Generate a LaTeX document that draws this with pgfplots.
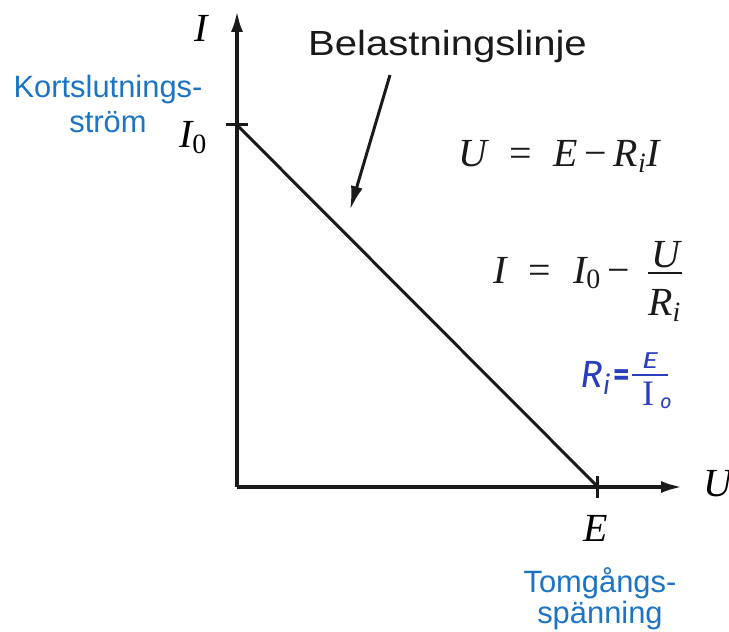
\RequirePackage{fix-cm}
\documentclass[border=0pt]{standalone}
\usepackage{fontspec}
\setmainfont{Liberation Sans}
\newfontfamily\tms{Liberation Serif}
\newfontfamily\hand{Fira Sans}
\usepackage{amsmath}
\usepackage{pgfplots}
\pgfplotsset{compat=1.18}
\usetikzlibrary{arrows.meta}
\definecolor{lblue}{RGB}{29,116,196}
\definecolor{pen}{RGB}{42,62,190}
\definecolor{ink}{RGB}{26,26,26}
% Times italic letters / upright digits inside math
\newcommand{\vv}[1]{\text{\tms\itshape #1}}
\newcommand{\vr}[1]{\text{\tms #1}}
\newcommand{\hv}[1]{\text{\hand\itshape #1}}
\newcommand{\hs}[2]{\text{\fontsize{#1}{#1}\selectfont\hand\itshape #2}}
\newcommand{\mathsz}{\fontsize{40}{46}\selectfont}
\newcommand{\labsz}{\fontsize{31}{36}\selectfont}
\begin{document}
\begin{tikzpicture}[x=1bp,y=1bp]
\path[use as bounding box] (-237,-145) rectangle (492,487);
\begin{axis}[
  at={(0,0)}, anchor=origin,
  scale only axis, width=446bp, height=477bp,
  xmin=0, xmax=1.2355, ymin=0, ymax=1.3177,
  axis lines=left,
  axis line style={line width=4bp, ink},
  x axis line style={-{Latex[length=22bp,width=12bp]}},
  y axis line style={-{Latex[length=22bp,width=12bp]}},
  xtick={1}, ytick={1},
  xticklabels={}, yticklabels={},
  tick align=center, major tick length=22bp,
  tick style={line width=3bp, ink},
  clip=false,
]
% load line between short-circuit current and open-circuit voltage
\addplot[ink, line width=3bp] coordinates {(0,1) (1,0)};

% axis names and tick names
\node[anchor=base, font=\mathsz, inner sep=0] at (axis cs:-0.0997,1.2293) {$\vv{I}$};
\node[anchor=base west, font=\mathsz, inner sep=0] at (axis cs:1.2909,-0.0276) {$\vv{U}$};
\node[anchor=base, font=\mathsz, inner sep=0] at (axis cs:0.9945,-0.1519) {$\vv{E}$};
\node[anchor=base east, font=\mathsz, inner sep=0] at (axis cs:-0.0831,0.9365) {$\vv{I}_{\vr{0}}$};

% blue explanations
\node[anchor=base, font=\labsz, text=lblue, inner sep=0] at (axis cs:-0.3573,1.0773) {Kortslutnings-};
\node[anchor=base, font=\labsz, text=lblue, inner sep=0] at (axis cs:-0.3573,0.9779) {ström};
\node[anchor=base, font=\labsz, text=lblue, inner sep=0] at (axis cs:1.0055,-0.2901) {Tomgångs-};
\node[anchor=base, font=\labsz, text=lblue, inner sep=0] at (axis cs:1.0055,-0.3757) {spänning};

% caption with arrow to the line
\node[anchor=base west, inner sep=0, text=ink] at (axis cs:0.1967,1.193)
  {\scalebox{1.15}[1]{\fontsize{35}{40}\selectfont Belastningslinje}};
\draw[ink, line width=3bp, -{Latex[length=24bp,width=12bp]}]
  (axis cs:0.4238,1.138) -- (axis cs:0.313,0.7652);

% U = E - Ri I
\node[anchor=base west, font=\mathsz, inner sep=0, text=ink] at (axis cs:0.6122,0.884)
  {$\vv{U}\ \ \vr{=}\ \ \vv{E}\,\vr{−}\,\vv{R}_{\vv{i}}\vv{I}$};
% I = I0 - U/Ri, the fraction set by hand
\node[anchor=base west, font=\mathsz, inner sep=0, text=ink] at (axis cs:0.7091,0.5635)
  {$\vv{I}\ \ \vr{=}\ \ \vv{I}_{\vr{0}}\,\vr{−}$};
\node[anchor=base, font=\mathsz, inner sep=0, text=ink] at (axis cs:1.1884,0.605) {$\vv{U}$};
\draw[ink, line width=2.5bp] (axis cs:1.1385,0.5912) -- (axis cs:1.2327,0.5912);
\node[anchor=base west, font=\mathsz, inner sep=0, text=ink] at (axis cs:1.1385,0.4724) {$\vv{R}_{\vv{i}}$};

% handwritten note Ri = E/Io
\node[anchor=base west, font=\fontsize{38}{44}\selectfont, inner sep=0, text=pen] at (axis cs:0.9501,0.2762)
  {$\hv{R}_{\hv{i}}$};
\node[anchor=center, inner sep=0, text=pen] at (axis cs:1.0665,0.3011)
  {\fontsize{32}{32}\selectfont\hand\bfseries =};
\draw[pen, line width=2.5bp] (axis cs:1.0942,0.3094) -- (axis cs:1.1939,0.3094);
\node[anchor=base, inner sep=0, text=pen] at (axis cs:1.144,0.3287) {\scalebox{1.35}[1]{\hs{23}{E}}};
\node[anchor=base, inner sep=0, text=pen] at (axis cs:1.1385,0.2238) {\fontsize{36}{36}\selectfont\tms I};
\node[anchor=base west, inner sep=0, text=pen] at (axis cs:1.1717,0.2155) {\hs{20}{o}};
\end{axis}
\end{tikzpicture}
\end{document}
